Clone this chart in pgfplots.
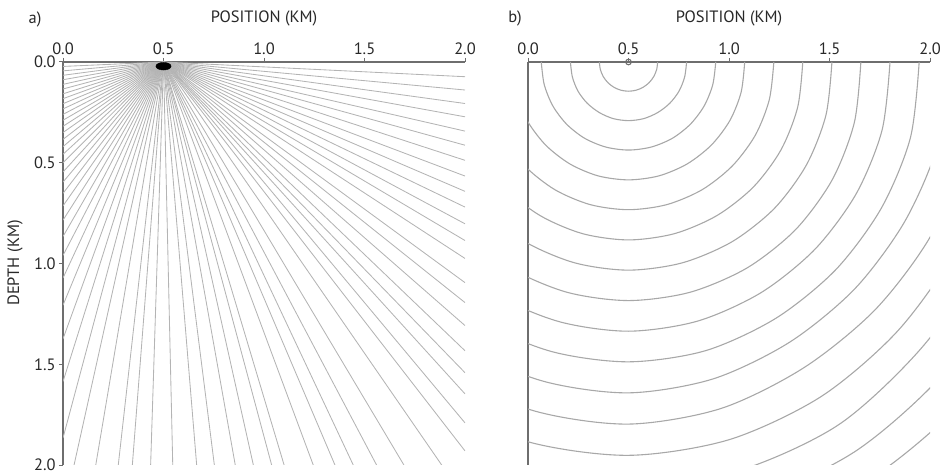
\documentclass[border=0pt]{standalone}
\usepackage{pgfplots}
\pgfplotsset{compat=1.18}
\usepackage{fontspec}
\setmainfont{PT Sans}
\definecolor{axgray}{RGB}{110,110,110}
\definecolor{raygray}{RGB}{180,180,180}
\definecolor{wfgray}{RGB}{168,168,168}
\definecolor{txt}{RGB}{40,40,40}
\begin{document}
\begin{tikzpicture}[font=\fontsize{16.5}{19}\selectfont]
\useasboundingbox (0,0) rectangle (948bp,475bp);
\pgfplotsset{
  panel/.style={
    scale only axis, width=402bp, height=403bp, anchor=south west,
    xmin=-0.5, xmax=1.5, ymin=-2, ymax=0,
    axis x line=top, axis y line=left,
    axis line style={-, axgray, line width=1.2bp},
    xtick={-0.5,0,0.5,1,1.5}, xticklabels={0.0,0.5,1.0,1.5,2.0},
    tick style={axgray, line width=1bp},
    tick align=outside, major tick length=4bp,
    ticklabel style={text=txt},
    clip marker paths=false,
  },
  ray/.style={raygray, line width=0.85bp, no marks},
  wf/.style={wfgray, line width=1.1bp, no marks, smooth, data cs=polar},
}
% ---------------- panel a: rays ----------------
\begin{axis}[panel, at={(63bp,10bp)},
  ytick={-2,-1.5,-1,-0.5,0}, yticklabels={2.0,1.5,1.0,0.5,0.0}]
% rays ending on the right edge
\addplot[ray] coordinates {(0,0) (1.5,-0.073)};
\addplot[ray] coordinates {(0,0) (1.5,-0.139)};
\addplot[ray] coordinates {(0,0) (1.5,-0.206)};
\addplot[ray] coordinates {(0,0) (1.5,-0.272)};
\addplot[ray] coordinates {(0,0) (1.5,-0.343)};
\addplot[ray] coordinates {(0,0) (1.5,-0.413)};
\addplot[ray] coordinates {(0,0) (1.5,-0.488)};
\addplot[ray] coordinates {(0,0) (1.5,-0.566)};
\addplot[ray] coordinates {(0,0) (1.5,-0.642)};
\addplot[ray] coordinates {(0,0) (1.5,-0.720)};
\addplot[ray] coordinates {(0,0) (1.5,-0.803)};
\addplot[ray] coordinates {(0,0) (1.5,-0.886)};
\addplot[ray] coordinates {(0,0) (1.5,-0.975)};
\addplot[ray] coordinates {(0,0) (1.5,-1.095)};
\addplot[ray] coordinates {(0,0) (1.5,-1.194)};
\addplot[ray] coordinates {(0,0) (1.5,-1.308)};
\addplot[ray] coordinates {(0,0) (1.5,-1.433)};
\addplot[ray] coordinates {(0,0) (1.5,-1.542)};
\addplot[ray] coordinates {(0,0) (1.5,-1.647)};
\addplot[ray] coordinates {(0,0) (1.5,-1.791)};
\addplot[ray] coordinates {(0,0) (1.5,-1.930)};
% rays ending on the bottom edge
\addplot[ray] coordinates {(0,0) (1.384,-2)};
\addplot[ray] coordinates {(0,0) (1.196,-2)};
\addplot[ray] coordinates {(0,0) (1.060,-2)};
\addplot[ray] coordinates {(0,0) (0.944,-2)};
\addplot[ray] coordinates {(0,0) (0.853,-2)};
\addplot[ray] coordinates {(0,0) (0.745,-2)};
\addplot[ray] coordinates {(0,0) (0.600,-2)};
\addplot[ray] coordinates {(0,0) (0.538,-2)};
\addplot[ray] coordinates {(0,0) (0.447,-2)};
\addplot[ray] coordinates {(0,0) (0.357,-2)};
\addplot[ray] coordinates {(0,0) (0.253,-2)};
\addplot[ray] coordinates {(0,0) (0.165,-2)};
\addplot[ray] coordinates {(0,0) (0.046,-2)};
\addplot[ray] coordinates {(0,0) (-0.064,-2)};
\addplot[ray] coordinates {(0,0) (-0.155,-2)};
\addplot[ray] coordinates {(0,0) (-0.225,-2)};
\addplot[ray] coordinates {(0,0) (-0.337,-2)};
\addplot[ray] coordinates {(0,0) (-0.445,-2)};
% rays ending on the left edge
\addplot[ray] coordinates {(0,0) (-0.5,-1.866)};
\addplot[ray] coordinates {(0,0) (-0.5,-1.586)};
\addplot[ray] coordinates {(0,0) (-0.5,-1.374)};
\addplot[ray] coordinates {(0,0) (-0.5,-1.207)};
\addplot[ray] coordinates {(0,0) (-0.5,-1.072)};
\addplot[ray] coordinates {(0,0) (-0.5,-0.960)};
\addplot[ray] coordinates {(0,0) (-0.5,-0.866)};
\addplot[ray] coordinates {(0,0) (-0.5,-0.785)};
\addplot[ray] coordinates {(0,0) (-0.5,-0.714)};
\addplot[ray] coordinates {(0,0) (-0.5,-0.652)};
\addplot[ray] coordinates {(0,0) (-0.5,-0.596)};
\addplot[ray] coordinates {(0,0) (-0.5,-0.546)};
\addplot[ray] coordinates {(0,0) (-0.5,-0.500)};
\addplot[ray] coordinates {(0,0) (-0.5,-0.458)};
\addplot[ray] coordinates {(0,0) (-0.5,-0.420)};
\addplot[ray] coordinates {(0,0) (-0.5,-0.384)};
\addplot[ray] coordinates {(0,0) (-0.5,-0.350)};
\addplot[ray] coordinates {(0,0) (-0.5,-0.319)};
\addplot[ray] coordinates {(0,0) (-0.5,-0.289)};
\addplot[ray] coordinates {(0,0) (-0.5,-0.260)};
\addplot[ray] coordinates {(0,0) (-0.5,-0.233)};
\addplot[ray] coordinates {(0,0) (-0.5,-0.207)};
\addplot[ray] coordinates {(0,0) (-0.5,-0.182)};
\addplot[ray] coordinates {(0,0) (-0.5,-0.158)};
\addplot[ray] coordinates {(0,0) (-0.5,-0.134)};
\addplot[ray] coordinates {(0,0) (-0.5,-0.111)};
\addplot[ray] coordinates {(0,0) (-0.5,-0.088)};
\addplot[ray] coordinates {(0,0) (-0.5,-0.066)};
\addplot[ray] coordinates {(0,0) (-0.5,-0.044)};
\addplot[ray] coordinates {(0,0) (-0.5,-0.022)};
% source
\addplot[only marks, mark=*, mark size=3.8bp, mark options={xscale=2.0, fill=black, draw=none}] coordinates {(0,-0.021)};
\addplot[only marks, mark=triangle*, mark size=2.6bp, mark options={fill=txt, draw=none}] coordinates {(0,0.007)};
\end{axis}
% ---------------- panel b: wavefronts ----------------
\begin{axis}[panel, at={(528bp,10bp)}, ytick=\empty]
\addplot[wf] coordinates {(0,0.145) (-15,0.145) (-30,0.145) (-45,0.145) (-60,0.145) (-75,0.145) (-90,0.145) (-105,0.145) (-120,0.145) (-135,0.145) (-150,0.145) (-165,0.145) (-180,0.145)};
\addplot[wf] coordinates {(0,0.289) (-15,0.289) (-30,0.290) (-45,0.290) (-60,0.290) (-75,0.291) (-90,0.291) (-105,0.291) (-120,0.290) (-135,0.290) (-150,0.290) (-165,0.289) (-180,0.289)};
\addplot[wf] coordinates {(0,0.434) (-15,0.434) (-30,0.435) (-45,0.436) (-60,0.437) (-75,0.437) (-90,0.437) (-105,0.437) (-120,0.437) (-135,0.436) (-150,0.435) (-165,0.434) (-180,0.434)};
\addplot[wf] coordinates {(0,0.578) (-15,0.580) (-30,0.582) (-45,0.583) (-60,0.584) (-75,0.585) (-90,0.585) (-105,0.585) (-120,0.584) (-135,0.583) (-150,0.582) (-165,0.580) (-180,0.578)};
\addplot[wf] coordinates {(0,0.723) (-15,0.725) (-30,0.728) (-45,0.730) (-60,0.732) (-75,0.733) (-90,0.733) (-105,0.733) (-120,0.732) (-135,0.730) (-150,0.728) (-165,0.725) (-180,0.723)};
\addplot[wf] coordinates {(0,0.867) (-15,0.871) (-30,0.875) (-45,0.878) (-60,0.880) (-75,0.882) (-90,0.883) (-105,0.882) (-120,0.880) (-135,0.878) (-150,0.875) (-165,0.871) (-180,0.867)};
\addplot[wf] coordinates {(0,1.012) (-15,1.017) (-30,1.022) (-45,1.027) (-60,1.030) (-75,1.032) (-90,1.033) (-105,1.032) (-120,1.030) (-135,1.027) (-150,1.022) (-165,1.017) (-180,1.012)};
\addplot[wf] coordinates {(0,1.156) (-15,1.163) (-30,1.170) (-45,1.176) (-60,1.180) (-75,1.183) (-90,1.184) (-105,1.183) (-120,1.180) (-135,1.176) (-150,1.170) (-165,1.163) (-180,1.156)};
\addplot[wf] coordinates {(0,1.301) (-15,1.306) (-30,1.308) (-45,1.313) (-60,1.321) (-75,1.331) (-90,1.336) (-105,1.334) (-120,1.331) (-135,1.325) (-150,1.318) (-165,1.310) (-180,1.301)};
\addplot[wf] coordinates {(0,1.446) (-15,1.452) (-30,1.452) (-45,1.458) (-60,1.468) (-75,1.483) (-90,1.488) (-105,1.487) (-120,1.483) (-135,1.476) (-150,1.467) (-165,1.457) (-180,1.446)};
\addplot[wf] coordinates {(0,1.591) (-15,1.592) (-30,1.586) (-45,1.592) (-60,1.605) (-75,1.628) (-90,1.642) (-105,1.640) (-120,1.635) (-135,1.627) (-150,1.616) (-165,1.604) (-180,1.591)};
\addplot[wf] coordinates {(0,1.735) (-15,1.739) (-30,1.734) (-45,1.737) (-60,1.750) (-75,1.780) (-90,1.797) (-105,1.794) (-120,1.788) (-135,1.779) (-150,1.766) (-165,1.751) (-180,1.735)};
\addplot[wf] coordinates {(0,1.880) (-15,1.884) (-30,1.876) (-45,1.891) (-60,1.917) (-75,1.940) (-90,1.952) (-105,1.950) (-120,1.942) (-135,1.931) (-150,1.916) (-165,1.899) (-180,1.880)};
\addplot[wf] coordinates {(0,2.025) (-15,2.027) (-30,2.022) (-45,2.036) (-60,2.082) (-75,2.101) (-90,2.108) (-105,2.106) (-120,2.097) (-135,2.084) (-150,2.067) (-165,2.047) (-180,2.025)};
\addplot[wf] coordinates {(0,2.170) (-15,2.185) (-30,2.188) (-45,2.203) (-60,2.238) (-75,2.258) (-90,2.266) (-105,2.263) (-120,2.253) (-135,2.238) (-150,2.218) (-165,2.195) (-180,2.170)};
\addplot[wf] coordinates {(0,2.315) (-15,2.335) (-30,2.350) (-45,2.367) (-60,2.394) (-75,2.415) (-90,2.424) (-105,2.420) (-120,2.409) (-135,2.392) (-150,2.370) (-165,2.343) (-180,2.315)};
% source
\addplot[only marks, mark=o, mark size=2.8bp, mark options={draw=axgray, fill=white, line width=1.1bp}] coordinates {(0,0)};
\end{axis}
% ---------------- labels ----------------
\node[text=txt] at (35bp,456bp) {a)};
\node[text=txt] at (515bp,457bp) {b)};
\node[text=txt] at (264bp,457bp) {POSITION (KM)};
\node[text=txt] at (729bp,457bp) {POSITION (KM)};
\node[text=txt, rotate=90] at (15bp,212bp) {DEPTH (KM)};
\end{tikzpicture}
\end{document}
